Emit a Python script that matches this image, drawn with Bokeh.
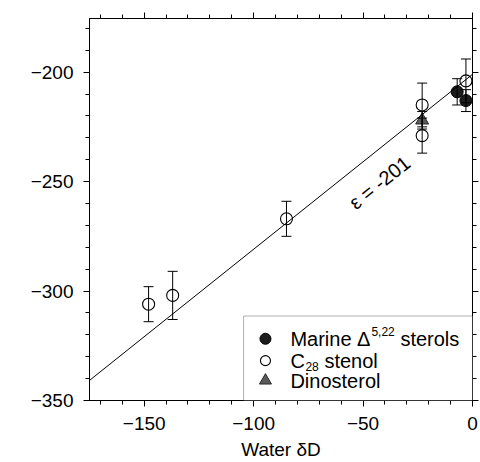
import math
from bokeh.plotting import figure
from bokeh.models import (ColumnDataSource, Whisker, TeeHead, FixedTicker, LinearAxis,
                          Range1d, BoxAnnotation, Label)
from bokeh.embed import file_html
from bokeh.resources import INLINE

# ---- data ----
marine_x = [-7, -3]
marine_y = [-209, -213]
marine_err = [6, 5]

c28_x = [-148, -137, -85, -23, -23, -3]
c28_y = [-306, -302, -267, -215, -229, -204]
c28_err = [8, 11, 8, 10, 8, 10]

dino_x = [-23]
dino_y = [-222]
dino_err = [4]

epsilon = -201
line_x = [-175, 0]

x_major = [-150, -100, -50, 0]
y_major = [-200, -250, -300, -350]
x_minor = list(range(-170, 1, 10))
y_minor = list(range(-350, -179, 10))

FONT = "Liberation Sans"
TICK_FS = "19px"
LAB_FS = "19px"
LEG_FS = "20px"


def make_src(xs, ys, es):
    return ColumnDataSource(dict(x=xs, y=ys,
                                 upper=[y + e for y, e in zip(ys, es)],
                                 lower=[y - e for y, e in zip(ys, es)]))


p = figure(width=480, height=462, output_backend="svg", toolbar_location=None,
           x_range=Range1d(-175, 0), y_range=Range1d(-350, -175.5),
           min_border_left=89, min_border_top=18, min_border_bottom=60,
           min_border_right=8)
p.grid.visible = False
p.outline_line_color = "black"
p.outline_line_width = 1
p.background_fill_color = "white"
p.border_fill_color = "white"

bottom_axis = p.below[0]
left_axis = p.left[0]
bottom_axis.ticker = FixedTicker(ticks=x_major, minor_ticks=x_minor)
left_axis.ticker = FixedTicker(ticks=y_major, minor_ticks=y_minor)

top_axis = LinearAxis(ticker=FixedTicker(ticks=x_major, minor_ticks=x_minor))
right_axis = LinearAxis(ticker=FixedTicker(ticks=y_major, minor_ticks=y_minor))
p.add_layout(top_axis, "above")
p.add_layout(right_axis, "right")

for ax in [bottom_axis, left_axis, top_axis, right_axis]:
    ax.axis_line_color = "black"
    ax.axis_line_width = 1
    ax.major_tick_line_color = "black"
    ax.minor_tick_line_color = "black"
    ax.major_tick_in = 0
    ax.major_tick_out = 6
    ax.minor_tick_in = 0
    ax.minor_tick_out = 4
    ax.major_label_text_font = FONT
    ax.major_label_text_font_size = TICK_FS
    ax.major_label_text_color = "black"

for ax in [top_axis, right_axis]:
    ax.major_label_text_font_size = "1px"
    ax.major_label_text_color = None
    ax.major_label_standoff = 0

bottom_axis.major_label_standoff = 10
left_axis.major_label_standoff = 10

bottom_axis.axis_label = "Water \u03b4D"
bottom_axis.axis_label_text_font = FONT
bottom_axis.axis_label_text_font_size = LAB_FS
bottom_axis.axis_label_text_font_style = "normal"
bottom_axis.axis_label_text_color = "black"
bottom_axis.axis_label_standoff = 6

# regression line for epsilon = -201
line_y = [(1 + epsilon / 1000.0) * (1000 + x) - 1000 for x in line_x]

# error bars
for xs, ys, es in [(c28_x, c28_y, c28_err), (marine_x, marine_y, marine_err),
                   (dino_x, dino_y, dino_err)]:
    src = make_src(xs, ys, es)
    w = Whisker(source=src, base="x", upper="upper", lower="lower",
                dimension="height", line_color="black", line_width=1,
                upper_head=TeeHead(size=10, line_color="black", line_width=1),
                lower_head=TeeHead(size=10, line_color="black", line_width=1),
                level="glyph")
    p.add_layout(w)

p.scatter(c28_x, c28_y, marker="circle", size=12, fill_color="white",
          line_color="black", line_width=1.1)
p.scatter(marine_x, marine_y, marker="circle", size=12, fill_color="#1c1c1c",
          line_color="black", line_width=1)
p.scatter(dino_x, dino_y, marker="triangle", size=13, fill_color="#5a5a5a",
          line_color="#2a2a2a", line_width=1)

p.line(line_x, line_y, line_color="black", line_width=1)

# epsilon label along line
ang = math.atan2(0.799 * 2.2006, 2.1886)
p.add_layout(Label(x=-42.5, y=-250.5, text="\u03b5 = -201", angle=ang,
                   text_align="center", text_baseline="middle",
                   text_font=FONT, text_font_size="20px", text_color="black"))

# legend box
p.add_layout(BoxAnnotation(left=-104.6, right=0, top=-311.4, bottom=-350,
                           fill_color="white", fill_alpha=1, line_color="black",
                           line_width=1, level="annotation"))

leg_mx = -94.6
leg_tx = -83.2
rows = [-321.8, -331.8, -340.9]
p.scatter(x=[leg_mx], y=[rows[0]], marker="circle", size=11, fill_color="#1c1c1c",
          line_color="black", level="overlay")
p.scatter(x=[leg_mx], y=[rows[1]], marker="circle", size=10, fill_color="white",
          line_color="black", line_width=1.1, level="overlay")
p.scatter(x=[leg_mx], y=[rows[2]], marker="triangle", size=12, fill_color="#5a5a5a",
          line_color="#2a2a2a", level="overlay")


def leg_text(txt, y, xoff, yoff, size):
    p.add_layout(Label(x=leg_tx, y=y, x_offset=xoff, y_offset=yoff, text=txt,
                       text_align="left", text_baseline="middle",
                       text_font=FONT, text_font_size=size, text_color="black",
                       level="overlay"))


leg_text("Marine \u0394", rows[0], 0, 0, LEG_FS)
leg_text("5,22", rows[0], 81, 7, "12px")
leg_text("sterols", rows[0], 110, 0, LEG_FS)
leg_text("C", rows[1], 0, 0, LEG_FS)
leg_text("28", rows[1], 15, -6, "12px")
leg_text("stenol", rows[1], 34, 0, LEG_FS)
leg_text("Dinosterol", rows[2], 0, 0, LEG_FS)

# y axis title
p.add_layout(Label(x=-206.5, y=-262.75, text="Lipid \u03b4D", angle=math.pi / 2,
                   text_align="center", text_baseline="middle", text_font=FONT,
                   text_font_size=LAB_FS, text_color="black"))

open("out.html", "w").write(file_html(p, INLINE))
